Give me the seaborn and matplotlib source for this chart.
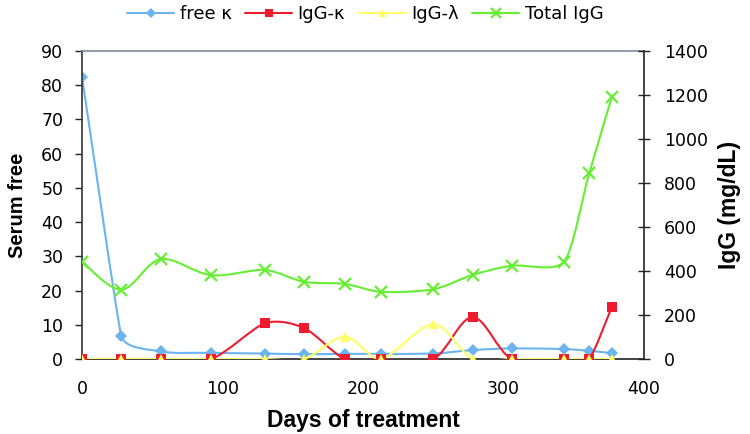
import numpy as np
import matplotlib
matplotlib.use('Agg')
import matplotlib.pyplot as plt
from matplotlib.path import Path
from matplotlib.patches import PathPatch
from matplotlib.lines import Line2D
import seaborn as sns

# ── Data ──────────────────────────────────────────────────────────────────────
days = [0, 28, 56, 92, 130, 158, 187, 213, 250, 278, 306, 343, 361, 377]
free_kappa = [82.5, 6.7, 2.2, 1.8, 1.6, 1.4, 1.5, 1.5, 1.6, 2.6, 3.1, 2.9, 2.4, 1.7]   # left axis
igg_kappa = [0, 0, 0, 0, 162, 141, 0, 0, 0, 190, 0, 0, 0, 235]                         # right axis
igg_lambda = [0, 0, 0, 0, 0, 0, 101, 0, 158, 0, 0, 0, 0, 0]                            # right axis
total_igg = [443, 315, 454, 381, 405, 351, 341, 305, 317, 382, 424, 442, 844, 1189]    # right axis

x_ticks = [0, 100, 200, 300, 400]
left_ticks = list(range(0, 91, 10))
right_ticks = list(range(0, 1401, 200))

colors = {'free κ': '#6cb4ee', 'IgG-κ': '#ee1c2e', 'IgG-λ': '#ffff66', 'Total IgG': '#66ee33'}

sns.set_style('white')
plt.rcParams['font.family'] = ['DejaVu Sans']
plt.rcParams['text.color'] = 'black'
plt.rcParams['axes.labelcolor'] = 'black'
plt.rcParams['xtick.color'] = 'black'
plt.rcParams['ytick.color'] = 'black'


def smooth_path(ax, x, y):
    # Excel-like smoothed line: cubic Bezier segments, tangent length limited
    # by the shorter neighbouring segment (screen space)
    pts = ax.transData.transform(np.column_stack([x, y]).astype(float))
    n = len(pts)
    seg = [np.hypot(*(pts[i + 1] - pts[i])) for i in range(n - 1)]
    tang = []
    for i in range(n):
        p_prev = pts[max(i - 1, 0)]
        p_next = pts[min(i + 1, n - 1)]
        d_in = seg[i - 1] if i > 0 else seg[0]
        d_out = seg[i] if i < n - 1 else seg[-1]
        s = 2 * min(d_in, d_out) / (d_in + d_out) if d_in + d_out > 0 else 1.0
        tang.append((p_next - p_prev) / 6 * s)
    verts = [pts[0]]
    codes = [Path.MOVETO]
    for i in range(n - 1):
        verts += [pts[i] + tang[i], pts[i + 1] - tang[i + 1], pts[i + 1]]
        codes += [Path.CURVE4] * 3
    data = ax.transData.inverted().transform(np.array(verts))
    return Path(data, codes)


fig = plt.figure(figsize=(7.5, 4.34), dpi=100)
ax1 = fig.add_axes([0.1093, 0.1728, 0.7494, 0.7097])
ax2 = ax1.twinx()

ax1.set_xlim(0, 400)
ax1.set_ylim(0, 90)
ax2.set_ylim(0, 1400)

series = [
    (ax1, free_kappa, 'free κ', 'D', 6.5, 0),
    (ax2, igg_kappa, 'IgG-κ', 's', 7.5, 0),
    (ax2, igg_lambda, 'IgG-λ', '^', 7.5, 0),
    (ax2, total_igg, 'Total IgG', 'x', 8, 1.6),
]

handles = []
for ax, vals, name, mk, ms, mew in series:
    c = colors[name]
    ax.add_patch(PathPatch(smooth_path(ax, days, vals), fill=False, edgecolor=c, lw=1.5))
    sns.lineplot(x=days, y=vals, ax=ax, marker=mk, markersize=ms, color=c,
                 linestyle='none', markeredgecolor=c, markeredgewidth=mew,
                 legend=False)
    handles.append(Line2D([0], [0], color=c, lw=1.5, marker=mk,
                          markersize=ms * 0.85, markeredgecolor=c,
                          markeredgewidth=mew, label=name))

ax1.set_ylim(0, 90)
ax2.set_ylim(0, 1400)
ax1.set_xlim(0, 400)

ax1.set_xticks(x_ticks)
ax1.set_yticks(left_ticks)
ax2.set_yticks(right_ticks)
ax1.tick_params(axis='x', direction='out', length=3, width=1, pad=12, labelsize=12.5, color='#222222')
ax1.tick_params(axis='y', direction='out', length=5, width=1, pad=8.5, labelsize=12.5, color='#222222')
ax2.tick_params(axis='y', direction='inout', length=8.5, width=1, pad=10, labelsize=12.5, color='#222222')

for ax in (ax1, ax2):
    for s in ax.spines.values():
        s.set_visible(False)
ax1.spines['left'].set_visible(True)
ax1.spines['left'].set_color('#333333')
ax1.spines['bottom'].set_visible(True)
ax1.spines['bottom'].set_color('#222222')
ax1.spines['top'].set_visible(True)
ax1.spines['top'].set_color('#7f8c99')
ax2.spines['right'].set_visible(True)
ax2.spines['right'].set_color('#222222')
for s in ax1.spines.values():
    s.set_linewidth(1.2)
ax2.spines['right'].set_linewidth(1.2)

label_font = ['Liberation Sans', 'DejaVu Sans']
ax1.set_xlabel('Days of treatment', fontsize=16.5, fontweight='bold', family=label_font, labelpad=8)
ax1.set_ylabel('Serum free', fontsize=14.5, fontweight='bold', family=label_font, labelpad=10)
ax2.set_ylabel('IgG (mg/dL)', fontsize=16.5, fontweight='bold', family=label_font, labelpad=7)

fig.legend(handles=handles, loc='upper center', bbox_to_anchor=(0.487, 1.025), ncol=4,
           frameon=False, fontsize=13, handlelength=2.6, handletextpad=0.3,
           columnspacing=0.75)

fig.savefig('out.png', dpi=100)
